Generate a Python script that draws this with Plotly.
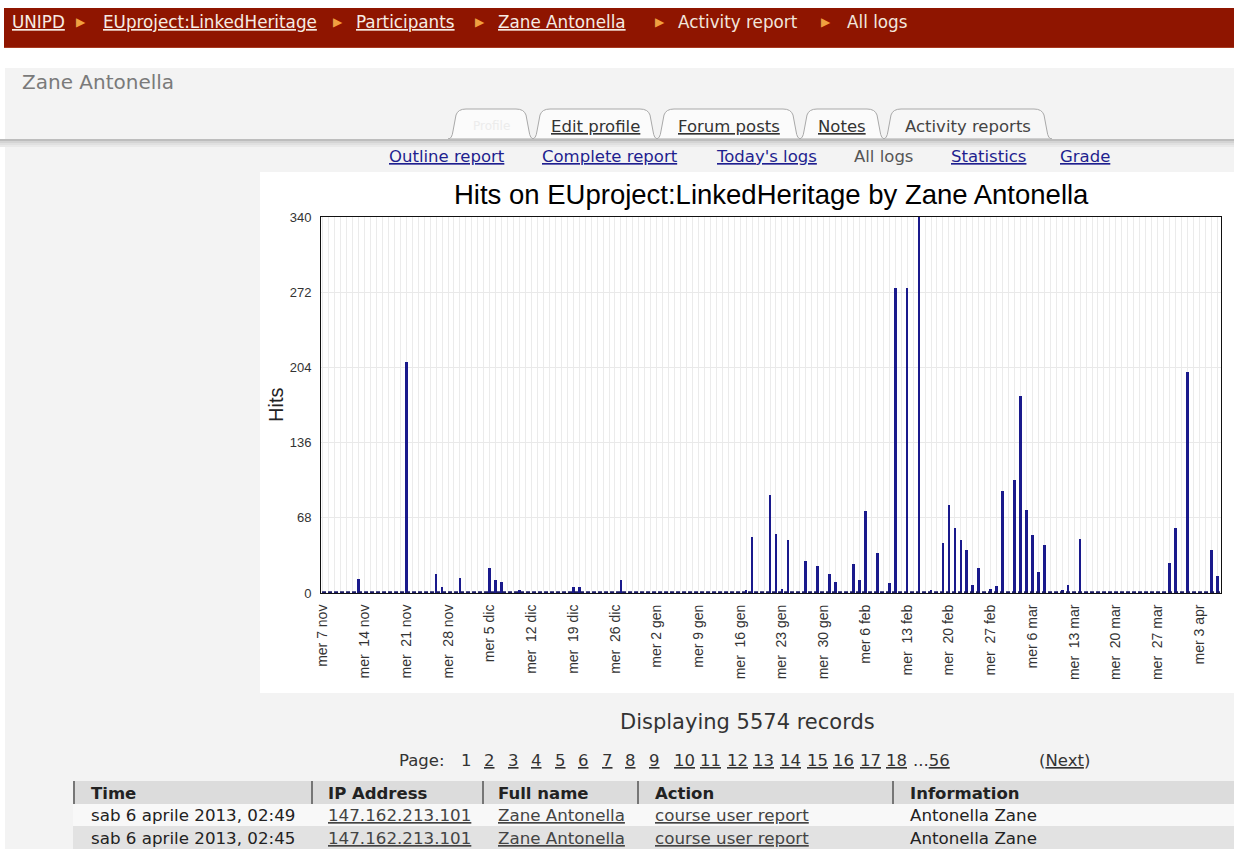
import plotly.graph_objects as go

# ---------------- data ----------------
tick_dates = ["2012-11-07", "2012-11-14", "2012-11-21", "2012-11-28", "2012-12-05",
              "2012-12-12", "2012-12-19", "2012-12-26", "2013-01-02", "2013-01-09",
              "2013-01-16", "2013-01-23", "2013-01-30", "2013-02-06", "2013-02-13",
              "2013-02-20", "2013-02-27", "2013-03-06", "2013-03-13", "2013-03-20",
              "2013-03-27", "2013-04-03"]
tick_labels = ["mer 7 nov", "mer  14 nov", "mer  21 nov", "mer  28 nov", "mer 5 dic",
               "mer  12 dic", "mer  19 dic", "mer  26 dic", "mer 2 gen", "mer 9 gen",
               "mer  16 gen", "mer  23 gen", "mer  30 gen", "mer 6 feb", "mer  13 feb",
               "mer  20 feb", "mer  27 feb", "mer 6 mar", "mer  13 mar", "mer  20 mar",
               "mer  27 mar", "mer 3 apr"]
hit_dates = ["2012-11-13", "2012-11-21", "2012-11-26", "2012-11-27", "2012-11-30",
             "2012-12-05", "2012-12-06", "2012-12-07", "2012-12-10", "2012-12-19",
             "2012-12-20", "2012-12-27", "2013-01-17", "2013-01-18", "2013-01-21",
             "2013-01-22", "2013-01-23", "2013-01-24", "2013-01-27", "2013-01-29",
             "2013-01-31", "2013-02-01", "2013-02-04", "2013-02-05", "2013-02-06",
             "2013-02-08", "2013-02-10", "2013-02-11", "2013-02-13", "2013-02-15",
             "2013-02-17", "2013-02-19", "2013-02-20", "2013-02-21", "2013-02-22",
             "2013-02-23", "2013-02-24", "2013-02-25", "2013-02-27", "2013-02-28",
             "2013-03-01", "2013-03-03", "2013-03-04", "2013-03-05", "2013-03-06",
             "2013-03-07", "2013-03-08", "2013-03-11", "2013-03-12", "2013-03-14",
             "2013-03-29", "2013-03-30", "2013-04-01", "2013-04-05", "2013-04-06"]
hit_values = [13, 209, 17, 5, 14,
              23, 12, 10, 3, 5,
              5, 12, 3, 51, 89,
              53, 4, 48, 29, 24,
              17, 10, 26, 12, 74,
              36, 9, 276, 276, 340,
              3, 45, 80, 59, 48,
              39, 7, 23, 4, 6,
              92, 102, 178, 75, 52,
              19, 43, 3, 7, 49,
              27, 59, 200, 39, 15]
y_ticks = [0, 68, 136, 204, 272, 340]

breadcrumb = ["UNIPD", "EUproject:LinkedHeritage", "Participants", "Zane Antonella",
              "Activity report", "All logs"]
tabs = ["Profile", "Edit profile", "Forum posts", "Notes", "Activity reports"]
subtabs = ["Outline report", "Complete report", "Today's logs", "All logs", "Statistics", "Grade"]
pages = ["1", "2", "3", "4", "5", "6", "7", "8", "9", "10", "11", "12", "13", "14",
         "15", "16", "17", "18"]
table_header = ["Time", "IP Address", "Full name", "Action", "Information"]
table_rows = [["sab 6 aprile 2013, 02:49", "147.162.213.101", "Zane Antonella",
               "course user report", "Antonella Zane"],
              ["sab 6 aprile 2013, 02:45", "147.162.213.101", "Zane Antonella",
               "course user report", "Antonella Zane"]]

# ---------------- geometry helpers (pixel -> paper) ----------------
W, H = 1234, 849
PL, PR, PT, PB = 321, 1221, 217, 593


def X(px):
    return (px - PL) / (PR - PL)


def Y(py):
    return (PB - py) / (PB - PT)


NB = "\u00a0"
tick_text = [t.replace("  ", NB + NB) for t in tick_labels]

fig = go.Figure()
fig.add_trace(go.Bar(
    x=hit_dates, y=hit_values, width=0.44 * 86400000,
    marker=dict(color="#1a1a8c", line=dict(width=0)),
    hoverinfo="x+y", showlegend=False))

shapes = []
annotations = []


def rect(x0, y0, x1, y1, fill, line=None, layer="below"):
    shapes.append(dict(type="rect", xref="paper", yref="paper",
                       x0=X(x0), x1=X(x1), y0=Y(y1), y1=Y(y0),
                       fillcolor=fill, line=dict(width=0) if line is None else line,
                       layer=layer))


def hline(x0, x1, y, color, width=1, layer="below"):
    shapes.append(dict(type="line", xref="paper", yref="paper",
                       x0=X(x0), x1=X(x1), y0=Y(y), y1=Y(y),
                       line=dict(color=color, width=width), layer=layer))


def vline(x, y0, y1, color, width=1, layer="below"):
    shapes.append(dict(type="line", xref="paper", yref="paper",
                       x0=X(x), x1=X(x), y0=Y(y0), y1=Y(y1),
                       line=dict(color=color, width=width), layer=layer))


def text(x, y, s, size=16, color="#333333", anchor="left", family="DejaVu Sans",
         angle=0):
    annotations.append(dict(xref="paper", yref="paper", x=X(x), y=Y(y), text=s,
                            showarrow=False, xanchor=anchor, yanchor="middle",
                            textangle=angle,
                            font=dict(family=family, size=size, color=color)))


# page background
rect(5, 68, 1234, 849, "#f3f3f3")
# header band
rect(4, 8, 1234, 48, "#8f1500")
hline(4, 1234, 47.5, "#a83a20")

# breadcrumb
bc_pos = [10, 101, 354, 496, 676, 845]
arrow_pos = [81, 338, 480, 660, 826]
for i, (s, x) in enumerate(zip(breadcrumb, bc_pos)):
    if i < 4:
        text(x, 22, "<u>" + s + "</u>", size=16.8, color="#f6ece4")
    else:
        text(x, 22, s, size=16.8, color="#f2e6dc")
for x in arrow_pos:
    text(x, 22, "\u25b6", size=12, color="#f0a040", anchor="center")

# page heading
text(20, 82, "Zane Antonella", size=20, color="#7a7a7a")

# tabs
tab_bounds = [(448, 534), (532, 658), (656, 801), (799, 885), (883, 1052)]


def tab(x0, x1, fill):
    yb, yt = 139, 109
    p = (f"M {X(x0)},{Y(yb)} Q {X(x0 + 4)},{Y(yb)} {X(x0 + 5)},{Y(yb - 8)} "
         f"L {X(x0 + 8)},{Y(yt + 6)} Q {X(x0 + 10)},{Y(yt)} {X(x0 + 18)},{Y(yt)} "
         f"L {X(x1 - 18)},{Y(yt)} Q {X(x1 - 10)},{Y(yt)} {X(x1 - 8)},{Y(yt + 6)} "
         f"L {X(x1 - 5)},{Y(yb - 8)} Q {X(x1 - 4)},{Y(yb)} {X(x1)},{Y(yb)} Z")
    shapes.append(dict(type="path", xref="paper", yref="paper", path=p,
                       fillcolor=fill, line=dict(color="#a9a9a9", width=1),
                       layer="below"))


for i, (x0, x1) in enumerate(tab_bounds):
    tab(x0, x1, "#fbfbfb" if i != 4 else "#f7f7f7")
# line & gradient below tabs
rect(0, 139, 1234, 141, "#bdbdbd")
rect(0, 141, 1234, 143, "#d4d4d4")
rect(0, 143, 1234, 145, "#e0e0e0")
rect(0, 145, 1234, 147, "#e9e9e9")
for i, (s, (x0, x1)) in enumerate(zip(tabs, tab_bounds)):
    cx = (x0 + x1) / 2
    if i == 0:
        text(cx, 126, s, size=12, color="#ececec", anchor="center")
    elif i == 4:
        text(cx, 126, s, size=16.5, color="#444444", anchor="center")
    else:
        text(cx, 126, "<u>" + s + "</u>", size=16.5, color="#333333", anchor="center")

# sub tabs
sub_centers = [447, 610, 766, 883, 988, 1085]
for s, cx in zip(subtabs, sub_centers):
    if s == "All logs":
        text(cx, 156, s, size=16.5, color="#555555", anchor="center")
    else:
        text(cx, 156, "<u>" + s + "</u>", size=16.5, color="#1f1f8f", anchor="center")

# chart white panel
rect(260, 172, 1234, 693, "#ffffff")

# chart title & y title
text(771, 194, "Hits on EUproject:LinkedHeritage by Zane Antonella", size=27.5,
     color="#000000", anchor="center", family="Liberation Sans")
text(276, 405, "Hits", size=20, color="#222222", anchor="center",
     family="Liberation Sans", angle=-90)

# records / pages
text(747, 722, "Displaying 5574 records", size=21, color="#333333", anchor="center")
text(422, 760, "Page:", size=16.5, color="#333333", anchor="center")
page_centers = [466, 489.5, 513, 536.5, 560, 583.5, 607, 630.5, 654,
                684, 710.6, 737.2, 763.8, 790.4, 817, 843.6, 870.2, 896.8]
for s, cx in zip(pages, page_centers):
    if s == "1":
        text(cx, 760, s, size=16.5, color="#333333", anchor="center")
    else:
        text(cx, 760, "<u>" + s + "</u>", size=16.5, color="#333333", anchor="center")
text(931, 760, "...<u>56</u>", size=16.5, color="#333333", anchor="center")
text(1064, 760, "(<u>Next</u>)", size=16.5, color="#333333", anchor="center")

# table
rect(73, 781, 1234, 804, "#dcdcdc")
rect(73, 804, 1234, 826, "#f8f8f8")
rect(73, 826, 1234, 849, "#e2e2e2")
col_div = [74, 312, 483, 638, 893]
col_text = [89, 326, 496, 653, 908]
for x in col_div:
    vline(x, 781, 804, "#555555", width=1.5)
for s, x in zip(table_header, col_text):
    text(x, 793, "<b>" + s + "</b>", size=16.5, color="#222222")
for r, yy in zip(table_rows, [815, 838]):
    for j, (s, x) in enumerate(zip(r, col_text)):
        if j in (1, 2, 3):
            text(x, yy, "<u>" + s + "</u>", size=16.7, color="#444444")
        else:
            text(x, yy, s, size=16.7, color="#222222")

# dashed baseline (zero days)
shapes.append(dict(type="line", xref="x", yref="y", x0="2012-11-06 21:00",
                   x1="2013-04-06 14:00", y0=0.6, y1=0.6,
                   line=dict(color="#1a1a66", width=2, dash="4px,2px"), layer="above"))

fig.update_layout(
    width=W, height=H, autosize=False,
    margin=dict(l=PL, r=W - PR, t=PT, b=H - PB, pad=0),
    paper_bgcolor="#ffffff", plot_bgcolor="#ffffff",
    shapes=shapes, annotations=annotations, bargap=0,
    xaxis=dict(type="date", range=["2012-11-06 16:48", "2013-04-06 15:07"],
               tickmode="array", tickvals=tick_dates, ticktext=tick_text,
               tickangle=-90, tickfont=dict(family="Liberation Sans", size=14, color="#333333"),
               ticks="outside", ticklen=5, tickcolor="rgba(0,0,0,0)",
               showgrid=True, gridcolor="#ebebeb", gridwidth=1,
               minor=dict(dtick=86400000, tick0="2012-11-07", showgrid=True,
                          gridcolor="#ebebeb", gridwidth=1, ticks=""),
               showline=True, linecolor="#111111", linewidth=1, mirror=True,
               zeroline=False, fixedrange=True),
    yaxis=dict(range=[0, 340], tickmode="array", tickvals=y_ticks,
               tickfont=dict(family="Liberation Sans", size=13, color="#333333"),
               ticks="outside", ticklen=6, tickcolor="rgba(0,0,0,0)",
               showgrid=True, gridcolor="#e9e9e9", gridwidth=1,
               showline=True, linecolor="#111111", linewidth=1, mirror=True,
               zeroline=False, fixedrange=True),
)

fig.write_html("out.html", config={"displayModeBar": False},
               post_script="document.body.style.margin='0';")
